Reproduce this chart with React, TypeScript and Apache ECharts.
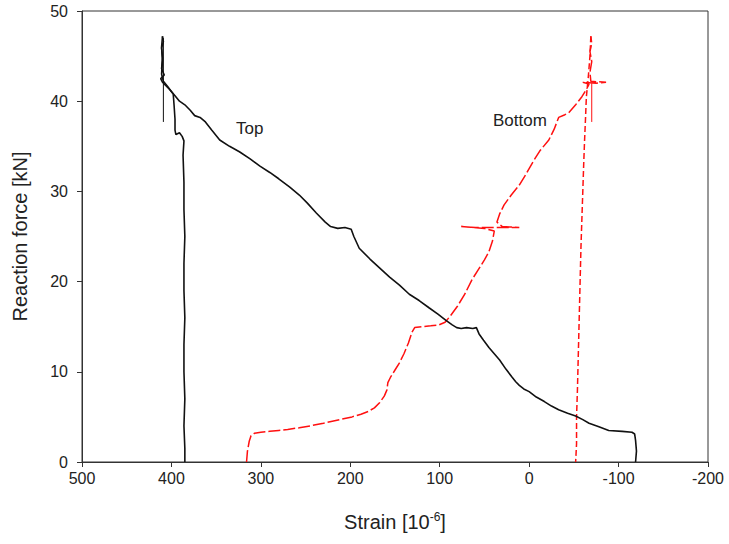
import React, { useEffect, useRef } from "react";
import * as echarts from "echarts";

// Strain [1e-6] vs reaction force [kN]
const topLoading: [number, number][] = [
  [-119, 0], [-120, 1.2], [-119, 2.4], [-118, 3.1], [-115, 3.3], [-104, 3.4], [-89, 3.5], [-78, 3.9],
  [-67, 4.3], [-60, 4.7], [-52, 5.1], [-43, 5.4], [-33, 5.8], [-25, 6.2], [-17, 6.7], [-8, 7.2],
  [0, 7.8], [6, 8.1], [11, 8.5], [15, 8.9], [19, 9.4], [26, 10.3], [33, 11.3], [39, 12.0],
  [45, 12.7], [51, 13.5], [56, 14.2], [59, 14.9], [63, 14.8], [70, 14.9], [76, 14.8], [81, 14.9],
  [86, 15.2], [93, 15.7],
  [102, 16.4], [112, 17.1], [123, 17.9], [134, 18.6], [145, 19.6], [156, 20.5], [167, 21.5],
  [178, 22.5], [190, 23.7], [196, 25.0], [199, 25.8], [206, 26.0], [214, 25.9], [222, 26.1],
  [228, 26.6], [238, 27.6], [248, 28.7], [257, 29.6], [268, 30.5], [280, 31.4], [290, 32.1],
  [301, 32.8], [312, 33.6], [324, 34.4], [335, 35.0], [346, 35.7], [355, 36.8], [362, 37.7],
  [368, 38.2], [374, 38.4], [379, 39.0], [385, 39.6], [391, 40.0], [396, 40.6], [402, 41.3],
  [407, 41.8], [410, 42.1], [412, 42.5], [408, 42.9], [411, 43.6], [410, 44.8], [411, 45.9],
  [409, 46.6], [410, 47.2]
];

const topUnloading: [number, number][] = [
  [410, 47.2], [411, 46.0], [410, 44.5], [411, 43.0], [409, 42.2], [404, 41.6], [398, 40.8],
  [397, 39.5], [396, 38.0], [396, 36.8], [395, 36.3], [391, 36.5], [388, 36.1], [386, 35.6],
  [387, 34.0], [386, 31.0], [386, 28.0], [385, 25.0], [386, 22.0], [386, 19.0], [385, 16.0],
  [386, 13.0], [386, 10.0], [385, 7.0], [386, 4.0], [385, 1.5], [385, 0]
];

const topSpike: [number, number][] = [[409, 47.0], [409, 37.7]];

const bottomLoading: [number, number][] = [
  [316, 0], [315, 1.2], [313, 2.3], [311, 2.9], [307, 3.2], [300, 3.3], [290, 3.4], [280, 3.5],
  [270, 3.6], [257, 3.8], [245, 4.0], [230, 4.3], [212, 4.7], [198, 5.0], [188, 5.3], [180, 5.6],
  [173, 6.0], [167, 6.6], [162, 7.3], [159, 8.0], [158, 8.8], [155, 9.4], [150, 10.2], [145, 11.0],
  [140, 12.0], [135, 13.2], [131, 14.4], [128, 14.9], [120, 15.0], [110, 15.1], [101, 15.2],
  [94, 15.5], [88, 16.2], [80, 17.3], [72, 18.6], [64, 20.2], [57, 21.3], [50, 22.4], [45, 23.3],
  [41, 24.5], [39, 25.6], [50, 25.9], [62, 26.0], [76, 26.1], [60, 26.0], [40, 26.0], [25, 26.0],
  [11, 26.0], [30, 26.1], [36, 26.6], [33, 27.5], [28, 28.5], [20, 29.6], [11, 30.7], [3, 32.0],
  [-5, 33.4], [-12, 34.5], [-22, 35.7], [-28, 36.9], [-33, 38.2], [-40, 38.5], [-45, 38.8],
  [-52, 39.6], [-59, 40.5], [-64, 41.3], [-67, 41.9], [-60, 42.1], [-75, 42.0], [-86, 42.1],
  [-69, 42.2], [-68, 43.2], [-70, 44.4], [-68, 45.5], [-70, 46.4], [-69, 47.2]
];

const bottomUnloading: [number, number][] = [
  [-69, 47.2], [-68, 45.0], [-66, 42.5], [-64, 40.5], [-63, 38.0], [-62, 35.7], [-61, 33.0],
  [-60, 30.0], [-59, 27.0], [-58, 24.0], [-57, 20.0], [-56, 16.0], [-55, 12.0], [-54, 8.0],
  [-53, 5.0], [-53, 2.0], [-52, 0]
];

const bottomSpike: [number, number][] = [[-70, 42.0], [-70, 37.7]];

const xTicks = { min: -200, max: 500, interval: 100 };
const yTicks = { min: 0, max: 50, interval: 10 };

const FONT = "Liberation Sans";

export default function App() {
  const ref = useRef<HTMLDivElement>(null);
  useEffect(() => {
    if (!ref.current) return;
    document.body.style.margin = "0";
    const chart = echarts.init(ref.current, undefined, { renderer: "svg" });
    const black = "#111";
    const red = "#ff1010";
    const line = (data: [number, number][], color: string, width: number, type: any = "solid") => ({
      type: "line",
      data,
      showSymbol: false,
      symbol: "none",
      lineStyle: { color, width, type },
      silent: true,
    });
    chart.setOption({
      animation: false,
      grid: {
        left: 82,
        right: 21,
        top: 11,
        bottom: 82,
        show: true,
        borderColor: "#333",
        borderWidth: 1,
        backgroundColor: "transparent",
      },
      xAxis: {
        type: "value",
        inverse: true,
        ...xTicks,
        name: "Strain [10{sup|-6}]",
        nameLocation: "middle",
        nameGap: 49,
        nameTextStyle: {
          fontFamily: FONT,
          fontSize: 20,
          color: "#222",
          rich: { sup: { fontFamily: FONT, fontSize: 12, color: "#222", padding: [0, 0, 10, 0] } },
        },
        axisLine: { onZero: false, lineStyle: { color: "#333", width: 1 } },
        axisTick: { inside: false, length: 5, lineStyle: { color: "#333" } },
        axisLabel: { fontFamily: FONT, fontSize: 16, color: "#222", margin: 8 },
        splitLine: { show: false },
      },
      yAxis: {
        type: "value",
        position: "left",
        ...yTicks,
        name: "Reaction force [kN]",
        nameLocation: "middle",
        nameGap: 52,
        nameTextStyle: { fontFamily: FONT, fontSize: 20, color: "#222" },
        axisLine: { show: true, onZero: false, lineStyle: { color: "#333", width: 1 } },
        axisTick: { show: true, inside: false, length: 5, lineStyle: { color: "#333" } },
        axisLabel: { fontFamily: FONT, fontSize: 16, color: "#222", margin: 14 },
        splitLine: { show: false },
      },
      graphic: [
        { type: "text", left: 236, top: 120, style: { text: "Top", font: `17px ${FONT}`, fill: "#222" } },
        { type: "text", left: 493, top: 112, style: { text: "Bottom", font: `17px ${FONT}`, fill: "#222" } },
      ],
      series: [
        line(bottomLoading, red, 1.5, [12, 3]),
        line(bottomUnloading, red, 1.5, [6, 3]),
        line(bottomSpike, red, 1),
        line(topLoading, black, 1.6),
        line(topUnloading, black, 1.6),
        line(topSpike, black, 1),
      ],
    });
    return () => chart.dispose();
  }, []);
  return <div ref={ref} style={{ width: 729, height: 544 }} />;
}
